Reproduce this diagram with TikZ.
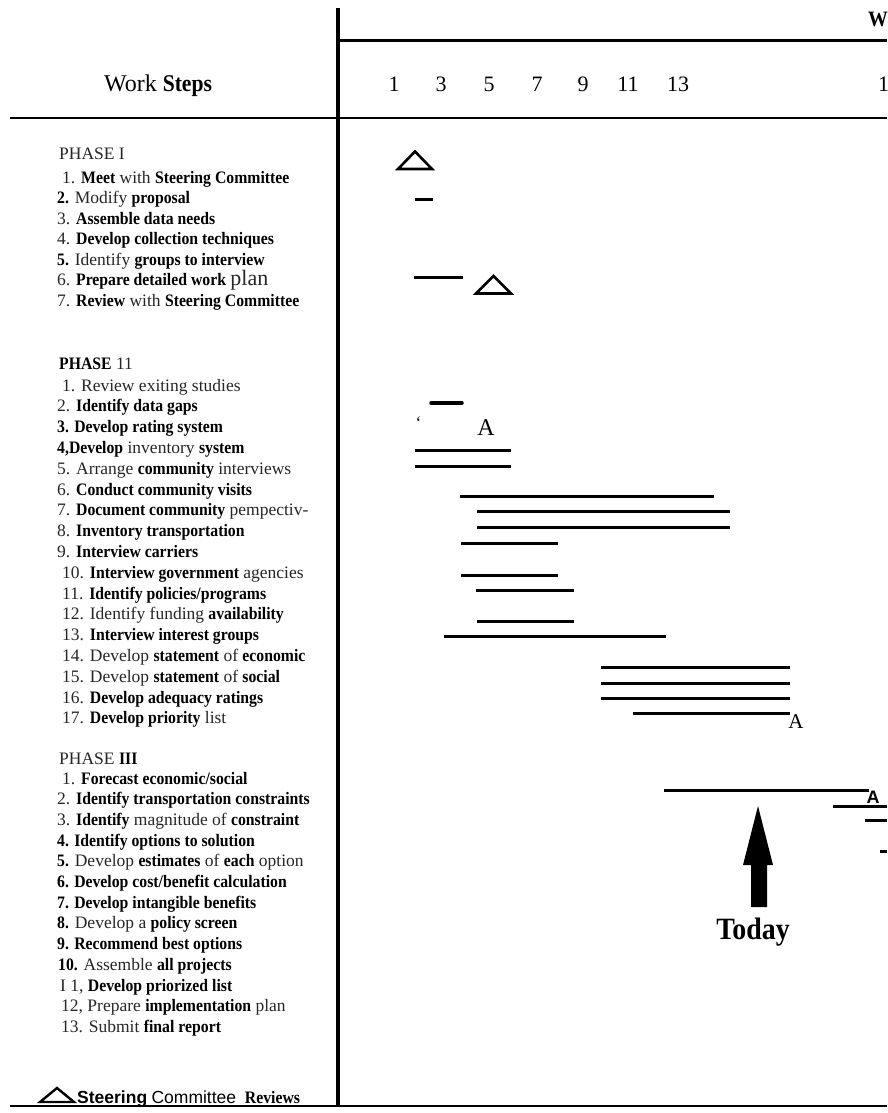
\documentclass[tikz,border=0pt]{standalone}
\usepackage{fontspec}
\setmainfont{Liberation Serif}[BoldFeatures={FakeStretch=0.9}]
\newfontfamily\lsans{Liberation Sans}
\newfontfamily\lsansbold{Liberation Sans Bold}
\newcommand{\bw}[1]{{\color{black}\bfseries #1}}
\tikzset{
  item/.style={anchor=base west, inner sep=0pt, text=black!85, font=\fontsize{17.5}{20}\selectfont},
  hnum/.style={anchor=base, inner sep=0pt, text=black, font=\fontsize{22}{22}\selectfont},
  gbar/.style={line width=3pt},
  rev/.style={draw=black, fill=white, line width=2.6pt, line join=miter},
  frame/.style={draw=black, line width=3pt},
  marka/.style={inner sep=0pt, text=black},
}
\begin{document}
\begin{tikzpicture}[x=1pt,y=-1pt]
\useasboundingbox (0,0) rectangle (887,1113);
\fill[white] (0,0) rectangle (887,1113);

% ---------- frame ----------
\coordinate (vtop) at (338,8);
\coordinate (vbot) at (338,1106);
\draw[frame, line width=3.5pt] (vtop) -- (vbot);
\coordinate (tl) at (338,41);
\coordinate (tr) at (887,41);
\draw[frame] (tl) -- (tr);
\coordinate (hl) at (10,118);
\coordinate (hr) at (887,118);
\draw[frame, line width=2.5pt] (hl) -- (hr);
\coordinate (bl) at (10,1106);
\coordinate (br) at (887,1106);
\draw[frame, line width=2pt] (bl) -- (br);

% ---------- header ----------
\node[anchor=base west, inner sep=0pt, font=\fontsize{22}{22}\selectfont\bfseries] (wk) at (868,27) {W};
\node[anchor=base, inner sep=0pt, font=\fontsize{24}{24}\selectfont] (ws) at (158,92) {Work \bw{Steps}};
\node[hnum] (n1) at (394,92) {1};
\node[hnum] (n3) at (441,92) {3};
\node[hnum] (n5) at (489,92) {5};
\node[hnum] (n7) at (537,92) {7};
\node[hnum] (n9) at (583,92) {9};
\node[hnum] (n11) at (628,92) {11};
\node[hnum] (n13) at (678,92) {13};
\node[hnum, anchor=base west] (n15) at (878,92) {1};

% ---------- Phase I ----------
\node[item] (p1) at (59,159) {PHASE I};
\node[item] (p1a) at (62,183) {1. \bw{Meet} with \bw{Steering Committee}};
\node[item] (p1b) at (57,203.5) {\bw{2.} Modify \bw{proposal}};
\node[item] (p1c) at (57,224) {3. \bw{Assemble data needs}};
\node[item] (p1d) at (57,244.5) {4. \bw{Develop collection techniques}};
\node[item] (p1e) at (57,265) {\bw{5.} Identify \bw{groups to interview}};
\node[item] (p1f) at (57,285.5) {6. \bw{Prepare detailed work} {\fontsize{22}{22}\selectfont plan}};
\node[item] (p1g) at (57,306) {7. \bw{Review} with \bw{Steering Committee}};

% ---------- Phase II ----------
\node[item] (p2) at (59,369) {\bw{PHASE} 11};
\node[item] (p2a) at (62,391) {1. Review exiting studies};
\node[item] (p2b) at (57,411.8) {2. \bw{Identify data gaps}};
\node[item] (p2c) at (57,432.6) {\bw{3. Develop rating system}};
\node[item] (p2d) at (57,453.4) {\bw{4,Develop} inventory \bw{system}};
\node[item] (p2e) at (57,474.2) {5. Arrange \bw{community} interviews};
\node[item] (p2f) at (57,495) {6. \bw{Conduct community visits}};
\node[item] (p2g) at (57,515.8) {7. \bw{Document community} pempectiv-};
\node[item] (p2h) at (57,536.6) {8. \bw{Inventory transportation}};
\node[item] (p2i) at (57,557.4) {9. \bw{Interview carriers}};
\node[item] (p2j) at (62,578.2) {10. \bw{Interview government} agencies};
\node[item] (p2k) at (62,599) {11. \bw{Identify policies/programs}};
\node[item] (p2l) at (62,619.8) {12. Identify funding \bw{availability}};
\node[item] (p2m) at (62,640.6) {13. \bw{Interview interest groups}};
\node[item] (p2n) at (62,661.4) {14. Develop \bw{statement} of \bw{economic}};
\node[item] (p2o) at (62,682.2) {15. Develop \bw{statement} of \bw{social}};
\node[item] (p2p) at (62,703) {16. \bw{Develop adequacy ratings}};
\node[item] (p2q) at (62,723.8) {17. \bw{Develop priority} list};

% ---------- Phase III ----------
\node[item] (p3) at (59,764) {PHASE \bw{III}};
\node[item] (p3a) at (62,784) {1. \bw{Forecast economic/social}};
\node[item] (p3b) at (57,804.7) {2. \bw{Identify transportation constraints}};
\node[item] (p3c) at (57,825.4) {3. \bw{Identify} magnitude of \bw{constraint}};
\node[item] (p3d) at (57,846.1) {\bw{4. Identify options to solution}};
\node[item] (p3e) at (57,866.8) {\bw{5.} Develop \bw{estimates} of \bw{each} option};
\node[item] (p3f) at (57,887.5) {\bw{6. Develop cost/benefit calculation}};
\node[item] (p3g) at (57,908.2) {\bw{7. Develop intangible benefits}};
\node[item] (p3h) at (57,928.9) {\bw{8.} Develop a \bw{policy screen}};
\node[item] (p3i) at (57,949.6) {\bw{9. Recommend best options}};
\node[item] (p3j) at (58,970.3) {\bw{10.} Assemble \bw{all projects}};
\node[item] (p3k) at (60,991) {I 1, \bw{Develop priorized list}};
\node[item] (p3l) at (61,1011.7) {12, Prepare \bw{implementation} plan};
\node[item] (p3m) at (61,1032.4) {13. Submit \bw{final report}};

% ---------- legend ----------
\draw[rev, line width=2.4pt] (40,1102) -- (74,1102) -- (57,1088) -- cycle;
\node[anchor=base west, inner sep=0pt, font=\fontsize{17.5}{17.5}\selectfont] (leg) at (77,1103)
  {{\lsansbold Steering} {\lsans Committee}\ \ \bw{Reviews}};

% ---------- Phase I bars ----------
\draw[rev] (398,169) -- (432,169) -- (415,151.5) -- cycle;
\draw[gbar] (415,199) -- (433,199);
\draw[gbar] (414,277) -- (463,277);
\draw[rev] (476,293.5) -- (511,293.5) -- (493.5,276) -- cycle;

% ---------- Phase II bars ----------
\draw[gbar, line width=3.5pt, line cap=round] (431,403) -- (462,403);
\node[marka, font=\fontsize{17.5}{17.5}\selectfont] (q1) at (418.5,423) {‘};
\node[marka, font=\fontsize{24}{24}\selectfont] (a1) at (486,428) {A};
\draw[gbar] (415,450) -- (511,450);
\draw[gbar] (415,466) -- (511,466);
\draw[gbar] (460,496) -- (714,496);
\draw[gbar] (477,511) -- (730,511);
\draw[gbar] (477,527) -- (730,527);
\draw[gbar] (461,543) -- (558,543);
\draw[gbar] (461,575) -- (558,575);
\draw[gbar] (476,590) -- (574,590);
\draw[gbar] (477,621) -- (574,621);
\draw[gbar] (444,636) -- (666,636);
\draw[gbar] (601,667) -- (790,667);
\draw[gbar] (601,683) -- (790,683);
\draw[gbar] (601,698) -- (790,698);
\draw[gbar] (633,713) -- (790,713);
\node[marka, font=\fontsize{21}{21}\selectfont] (a2) at (796,722) {A};

% ---------- Phase III bars ----------
\draw[gbar] (664,790) -- (869,790);
\node[marka, font=\fontsize{18}{18}\selectfont\lsansbold] (a3) at (873,797) {A};
\draw[gbar] (833,806) -- (887,806);
\draw[gbar] (865,820) -- (887,820);
\draw[gbar] (880,851) -- (887,851);

% ---------- Today arrow ----------
\node[anchor=base, inner sep=0pt, font=\fontsize{31}{31}\selectfont\bfseries] (today) at (753,939) {Today};
\fill[black] (758,806) -- (773,865) -- (767,865) -- (767,907) -- (751,907) -- (751,865) -- (743,865) -- cycle;
\end{tikzpicture}
\end{document}
